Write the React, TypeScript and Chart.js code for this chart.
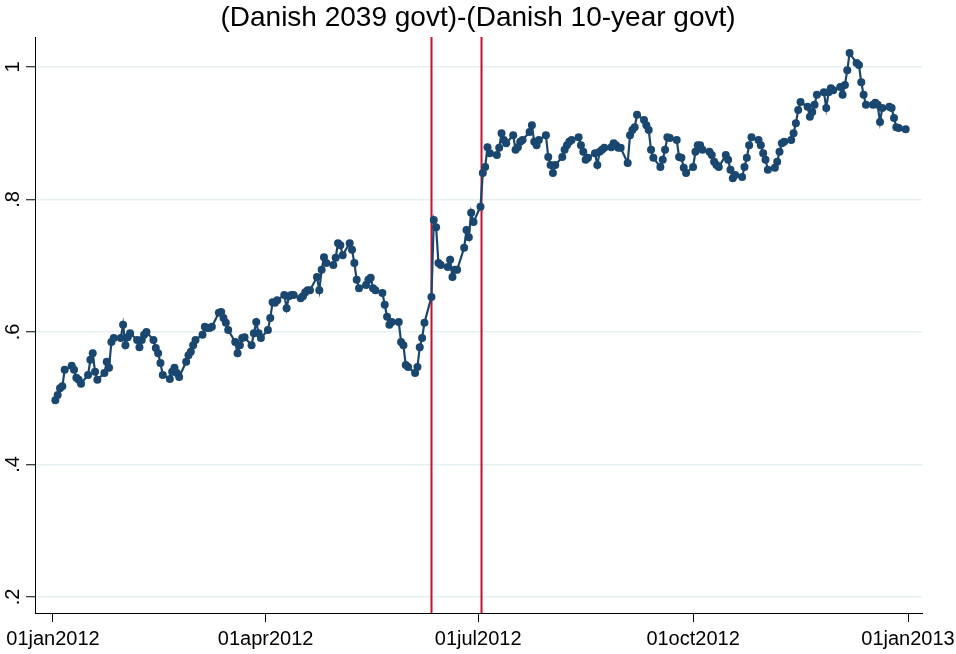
import React, { useEffect, useRef } from "react";
import { Chart, registerables } from "chart.js";

Chart.register(...registerables);

// Series start: first business day of 2012 (day offsets counted from 01jan2012)
const startYear = 2012;
const lastDayOffset = 365; // 31dec2012

// Spread values, one per business day (Mon-Fri), 02jan2012 .. 31dec2012
const spreadValues: number[] = [
  0.497, 0.505, 0.515, 0.518, 0.543,
  0.549, 0.543, 0.531, 0.528, 0.522,
  0.535, 0.558, 0.568, 0.540, 0.528,
  0.538, 0.555, 0.546, 0.585, 0.591,
  0.591, 0.611, 0.580, 0.592, 0.598,
  0.588, 0.577, 0.588, 0.596, 0.600,
  0.588, 0.576, 0.568, 0.553, 0.535,
  0.529, 0.540, 0.546, 0.538, 0.532,
  0.555, 0.565, 0.570, 0.580, 0.588,
  0.596, 0.608, 0.606, 0.606, 0.608,
  0.629, 0.630, 0.621, 0.614, 0.603,
  0.585, 0.568, 0.580, 0.591, 0.592,
  0.580, 0.598, 0.615, 0.598, 0.591,
  0.603, 0.621, 0.645, 0.644, 0.648,
  0.656, 0.636, 0.654, 0.656, 0.656,
  0.651, 0.654, 0.660, 0.663, 0.663,
  0.683, 0.663, 0.694, 0.713, 0.704,
  0.701, 0.712, 0.734, 0.731, 0.716,
  0.734, 0.724, 0.704, 0.679, 0.666,
  0.671, 0.679, 0.682, 0.666, 0.663,
  0.659, 0.641, 0.623, 0.611, 0.615,
  0.615, 0.585, 0.580, 0.550, 0.547,
  0.538, 0.547, 0.577, 0.591, 0.614,
  0.653, 0.769, 0.758, 0.704, 0.701,
  0.698, 0.709, 0.683, 0.694, 0.694,
  0.727, 0.754, 0.743, 0.780, 0.766,
  0.789, 0.840, 0.849, 0.879, 0.870,
  0.867, 0.878, 0.900, 0.890, 0.885,
  0.897, 0.875, 0.879, 0.887, 0.890,
  0.902, 0.912, 0.887, 0.882, 0.890,
  0.897, 0.864, 0.852, 0.840, 0.852,
  0.864, 0.875, 0.882, 0.887, 0.890,
  0.894, 0.882, 0.872, 0.860, 0.863,
  0.870, 0.852, 0.872, 0.875, 0.878,
  0.879, 0.885, 0.882, 0.878, 0.878,
  0.855, 0.897, 0.905, 0.909, 0.928,
  0.920, 0.912, 0.905, 0.875, 0.863,
  0.849, 0.860, 0.875, 0.894, 0.893,
  0.890, 0.864, 0.863, 0.848, 0.840,
  0.849, 0.872, 0.882, 0.882, 0.875,
  0.872, 0.867, 0.857, 0.852, 0.849,
  0.867, 0.860, 0.845, 0.832, 0.837,
  0.834, 0.849, 0.863, 0.882, 0.894,
  0.890, 0.882, 0.870, 0.860, 0.845,
  0.848, 0.857, 0.872, 0.885, 0.887,
  0.890, 0.900, 0.915, 0.935, 0.947,
  0.940, 0.925, 0.932, 0.943, 0.958,
  0.962, 0.938, 0.962, 0.968, 0.965,
  0.970, 0.958, 0.973, 0.995, 1.021,
  1.006, 1.003, 0.977, 0.958, 0.943,
  0.943, 0.946, 0.943, 0.917, 0.938,
  0.940, 0.938, 0.923, 0.909, 0.908,
  0.906,
];

// Vertical event lines (day offsets from 01jan2012): 11jun2012, 02jul2012
const eventDays: number[] = [162, 183];

// X tick positions (day offsets) and labels
const xTickDays: number[] = [0, 91, 182, 274, 366];
const xTickLabels: string[] = ["01jan2012", "01apr2012", "01jul2012", "01oct2012", "01jan2013"];

// Y ticks and labels
const yTickValues: number[] = [0.2, 0.4, 0.6, 0.8, 1];
const yTickLabels: string[] = [".2", ".4", ".6", ".8", "1"];

const titleText = "(Danish 2039 govt)-(Danish 10-year govt)";

function businessDayOffsets(): number[] {
  const out: number[] = [];
  const base = Date.UTC(startYear, 0, 1);
  for (let d = 0; d <= lastDayOffset; d++) {
    const wd = new Date(base + d * 86400000).getUTCDay();
    if (wd !== 0 && wd !== 6) out.push(d);
  }
  return out;
}

const NAVY = "#1a476f";
const RED = "#c8102e";
const FONT = "'Liberation Sans', Arial, Helvetica, sans-serif";

export default function App() {
  const ref = useRef<HTMLCanvasElement | null>(null);

  useEffect(() => {
    if (!ref.current) return;
    const days = businessDayOffsets();
    const points = spreadValues.map((v, i) => ({ x: days[i], y: v }));

    const eventLines = {
      id: "eventLines",
      beforeDatasetsDraw(chart: any) {
        const { ctx, chartArea, scales } = chart;
        ctx.save();
        ctx.strokeStyle = RED;
        ctx.lineWidth = 2;
        for (const d of eventDays) {
          const px = Math.round(scales.x.getPixelForValue(d)) + 0.5;
          ctx.beginPath();
          ctx.moveTo(px, chartArea.top);
          ctx.lineTo(px, chartArea.bottom);
          ctx.stroke();
        }
        ctx.restore();
      },
    };

    const chart = new Chart(ref.current, {
      type: "line",
      data: {
        datasets: [
          {
            data: points,
            borderColor: NAVY,
            backgroundColor: NAVY,
            borderWidth: 2.2,
            pointRadius: 4,
            pointBorderWidth: 0,
            pointBackgroundColor: NAVY,
            tension: 0,
          },
        ],
      },
      options: {
        animation: false,
        responsive: false,
        maintainAspectRatio: false,
        layout: { padding: 0 },
        plugins: {
          legend: { display: false },
          tooltip: { enabled: false },
          title: {
            display: true,
            text: titleText,
            color: "#000",
            font: { family: FONT, size: 28, weight: "normal" },
            padding: { top: 1.7, bottom: 1.7 },
          },
        },
        scales: {
          x: {
            type: "linear",
            min: -7.705,
            max: 371.99,
            afterBuildTicks: (s: any) => {
              s.ticks = xTickDays.map((v) => ({ value: v }));
            },
            afterFit: (s: any) => {
              s.height = 41;
              s.paddingLeft = 0;
              s.paddingRight = 34;
            },
            ticks: {
              autoSkip: false,
              maxRotation: 0,
              minRotation: 0,
              padding: 5,
              color: "#000",
              font: { family: FONT, size: 20 },
              callback: (v: any) => {
                const i = xTickDays.indexOf(Number(v));
                return i >= 0 ? xTickLabels[i] : "";
              },
            },
            grid: {
              drawOnChartArea: false,
              drawTicks: true,
              tickLength: 9,
              tickColor: "#000",
              tickWidth: 1,
            },
            border: { display: true, color: "#000", width: 1 },
          },
          y: {
            type: "linear",
            min: 0.1758,
            max: 1.0453,
            afterBuildTicks: (s: any) => {
              s.ticks = yTickValues.map((v) => ({ value: v }));
            },
            afterFit: (s: any) => {
              s.width = 35;
              s.paddingTop = 0;
              s.paddingBottom = 0;
            },
            ticks: {
              autoSkip: false,
              minRotation: 90,
              maxRotation: 90,
              crossAlign: "center",
              padding: 4,
              color: "#000",
              font: { family: FONT, size: 20 },
              callback: (v: any) => {
                const i = yTickValues.findIndex((t) => Math.abs(t - Number(v)) < 1e-9);
                return i >= 0 ? yTickLabels[i] : "";
              },
            },
            grid: {
              drawOnChartArea: true,
              color: "#e6eff1",
              lineWidth: 1.5,
              drawTicks: true,
              tickLength: 9,
              tickColor: "#000",
              tickWidth: 1,
            },
            border: { display: true, color: "#000", width: 1 },
          },
        },
      },
      plugins: [eventLines],
    } as any);

    return () => chart.destroy();
  }, []);

  return (
    <div style={{ position: "fixed", left: 0, top: 0, width: 956, height: 654, background: "#fff" }}>
      <canvas ref={ref} width={956} height={654} style={{ width: 956, height: 654, display: "block" }} />
    </div>
  );
}
